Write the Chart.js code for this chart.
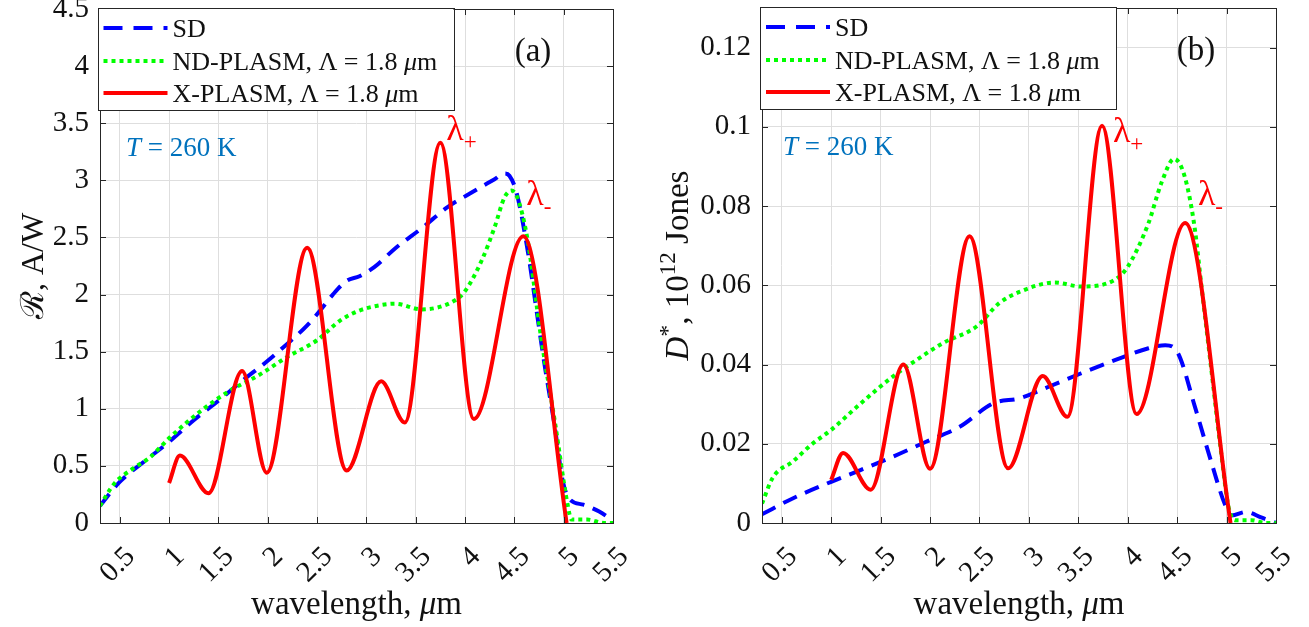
<!DOCTYPE html>
<html>
<head>
<meta charset="utf-8">
<script src="https://cdn.jsdelivr.net/npm/chart.js@4.4.1/dist/chart.umd.min.js"></script>
<style>
  html, body { margin: 0; padding: 0; background: #fff; }
  #wrap { position: relative; width: 1309px; height: 627px; }
  canvas { position: absolute; top: 0; }
  #chartA { left: 0; }
  #chartB { left: 655px; }
</style>
</head>
<body>
<div id="wrap">
  <canvas id="chartA" width="655" height="627"></canvas>
  <canvas id="chartB" width="654" height="627"></canvas>
</div>
<script>
// --- tick labels
var xTicks = [0.5, 1, 1.5, 2, 2.5, 3, 3.5, 4, 4.5, 5, 5.5];
var yTicksA = [0, 0.5, 1, 1.5, 2, 2.5, 3, 3.5, 4, 4.5];
var yTicksB = [0, 0.02, 0.04, 0.06, 0.08, 0.1, 0.12];

// --- panel (a): responsivity, A/W
var wlSD_a = [0.3, 0.5, 0.75, 1.0, 1.25, 1.5, 1.75, 2.0, 2.2, 2.4, 2.55, 2.66, 2.8, 2.93, 3.08, 3.3, 3.56, 3.83, 4.08, 4.3, 4.4, 4.45, 4.52, 4.64, 4.72, 4.8, 4.91, 4.99, 5.06, 5.2, 5.36, 5.5];
var respSD_a = [0.15, 0.36, 0.54, 0.71, 0.9, 1.07, 1.25, 1.42, 1.57, 1.73, 1.88, 2.0, 2.12, 2.16, 2.24, 2.41, 2.58, 2.77, 2.9, 3.01, 3.06, 3.04, 2.9, 2.36, 1.89, 1.42, 0.84, 0.37, 0.21, 0.16, 0.1, 0.02];
var wlND_a = [0.3, 0.44, 0.64, 0.8, 1.01, 1.32, 1.62, 1.92, 2.19, 2.5, 2.73, 2.93, 3.1, 3.29, 3.56, 3.9, 4.0, 4.17, 4.3, 4.4, 4.47, 4.53, 4.63, 4.77, 4.91, 5.04, 5.08, 5.24, 5.41, 5.5];
var respND_a = [0.15, 0.34, 0.48, 0.57, 0.75, 0.98, 1.16, 1.3, 1.45, 1.6, 1.77, 1.86, 1.9, 1.92, 1.87, 1.95, 2.03, 2.3, 2.59, 2.85, 2.91, 2.85, 2.5, 1.63, 0.89, 0.16, 0.03, 0.03, 0.0, 0.0];
var wlX_a = [1.0, 1.11, 1.40, 1.74, 1.99, 2.40, 2.80, 3.15, 3.39, 3.75, 4.09, 4.59, 5.03];
var respX_a = [0.35, 0.59, 0.26, 1.33, 0.44, 2.41, 0.46, 1.24, 0.88, 3.33, 0.91, 2.51, 0.0];

// --- panel (b): detectivity, 10^12 Jones
var wlSD_b = [0.3, 0.61, 1.0, 1.29, 1.62, 1.96, 2.30, 2.64, 2.91, 3.20, 3.53, 3.87, 4.21, 4.38, 4.51, 4.68, 4.85, 4.98, 5.05, 5.2, 5.35, 5.5];
var detSD_b = [0.0022, 0.0062, 0.0104, 0.0133, 0.0167, 0.0205, 0.0243, 0.0302, 0.0315, 0.0344, 0.0378, 0.0411, 0.0441, 0.0449, 0.0428, 0.0293, 0.015, 0.0049, 0.0019, 0.0028, 0.0014, 0.0];
var wlND_b = [0.3, 0.41, 0.61, 0.81, 1.0, 1.29, 1.62, 1.86, 2.13, 2.47, 2.70, 2.91, 3.26, 3.53, 3.87, 4.0, 4.21, 4.34, 4.47, 4.54, 4.61, 4.68, 4.75, 4.85, 4.95, 5.02, 5.09, 5.25, 5.4, 5.5];
var detND_b = [0.0049, 0.0115, 0.0155, 0.020, 0.0235, 0.030, 0.0369, 0.0411, 0.0454, 0.0496, 0.0555, 0.0584, 0.0607, 0.0597, 0.0614, 0.0647, 0.0757, 0.0858, 0.0919, 0.090, 0.0841, 0.074, 0.0589, 0.0378, 0.0167, 0.004, 0.0007, 0.0007, 0.0, 0.0];
var wlX_b = [1.0, 1.12, 1.40, 1.73, 2.0, 2.40, 2.79, 3.14, 3.39, 3.74, 4.09, 4.58, 5.04];
var detX_b = [0.0109, 0.0177, 0.0084, 0.040, 0.0137, 0.0724, 0.0138, 0.0371, 0.0268, 0.1003, 0.0275, 0.0757, 0.0];

// --- labels
var seriesNames = ['SD', 'ND-PLASM, ', 'X-PLASM, '];
var periodText = 'Λ = 1.8 ';
var tempText = ' = 260 K';

var SERIF = '"Liberation Serif", "Times New Roman", serif';
var INK = '#262626';
var GRID = '#dedede';
function f(size, style) { return (style ? style + ' ' : '') + size + 'px ' + SERIF; }

function pts(xs, ys) { return xs.map(function (x, i) { return { x: x, y: ys[i] }; }); }

function richWidth(ctx, segs) {
    var w = 0;
    segs.forEach(function (s) { ctx.font = s.f; w += ctx.measureText(s.t).width; });
    return w;
}
function drawRich(ctx, segs, x, y, align) {
    var cx = align === 'center' ? x - richWidth(ctx, segs) / 2 : x;
    segs.forEach(function (s) {
        ctx.font = s.f;
        ctx.fillText(s.t, cx, y + (s.dy || 0));
        cx += ctx.measureText(s.t).width;
    });
}

// box, inward ticks, legend and the text annotations
var overlay = {
    id: 'overlay',
    afterDraw: function (chart, args, o) {
        var ctx = chart.ctx, a = chart.chartArea;
        var xs = chart.scales.x, ys = chart.scales.y;
        ctx.save();
        ctx.textAlign = 'left';
        ctx.textBaseline = 'alphabetic';
        ctx.strokeStyle = INK;
        ctx.lineWidth = 1;
        ctx.setLineDash([]);
        ctx.beginPath();
        xTicks.forEach(function (v) {
            var p = Math.round(xs.getPixelForValue(v)) + 0.5;
            ctx.moveTo(p, a.bottom); ctx.lineTo(p, a.bottom - 6);
            ctx.moveTo(p, a.top); ctx.lineTo(p, a.top + 6);
        });
        o.yTicks.forEach(function (v) {
            var p = Math.round(ys.getPixelForValue(v)) + 0.5;
            ctx.moveTo(a.left, p); ctx.lineTo(a.left + 6, p);
            ctx.moveTo(a.right, p); ctx.lineTo(a.right - 6, p);
        });
        ctx.stroke();
        ctx.strokeRect(Math.round(a.left) + 0.5, Math.round(a.top) + 0.5, Math.round(a.right - a.left), Math.round(a.bottom - a.top));

        // legend
        var lx = a.left + o.legendDx, ly = a.top - 1, lw = 356, lh = 102;
        ctx.fillStyle = '#fff';
        ctx.fillRect(lx, ly, lw, lh);
        ctx.strokeRect(Math.round(lx) + 0.5, Math.round(ly) + 0.5, lw, lh);
        var styles = [
            { c: '#0000ff', d: [19, 11] },
            { c: '#00ff00', d: [4, 4] },
            { c: '#ff0000', d: [] }
        ];
        var rowY = [20, 53, 85];
        seriesNames.forEach(function (name, i) {
            var yy = ly + rowY[i];
            ctx.strokeStyle = styles[i].c;
            ctx.lineWidth = 4;
            ctx.setLineDash(styles[i].d);
            ctx.beginPath();
            ctx.moveTo(lx + 6, yy); ctx.lineTo(lx + 70, yy);
            ctx.stroke();
            ctx.fillStyle = '#111';
            var segs = [{ t: name, f: f(26) }];
            if (i > 0) {
                segs.push({ t: periodText, f: f(26) }, { t: 'μ', f: f(26, 'italic') }, { t: 'm', f: f(26) });
            }
            drawRich(ctx, segs, lx + 75, yy + 9, 'left');
        });
        ctx.setLineDash([]);

        // panel tag
        ctx.fillStyle = '#111';
        drawRich(ctx, [{ t: o.tag, f: f(33) }], a.right - 80, a.top + 52, 'center');

        // temperature
        ctx.fillStyle = '#0072BD';
        drawRich(ctx, [{ t: 'T', f: f(27, 'italic') }, { t: tempText, f: f(27) }], a.left + o.tempDx, a.top + 147, 'left');

        // lambda marks
        ctx.fillStyle = '#ff0000';
        o.lambdas.forEach(function (l) {
            drawRich(ctx, [{ t: 'λ', f: f(36) }, { t: l.s, f: f(23), dy: 9 }],
                xs.getPixelForValue(l.x), ys.getPixelForValue(l.y), 'left');
        });

        // x title
        ctx.fillStyle = '#111';
        drawRich(ctx, [{ t: 'wavelength, ', f: f(33) }, { t: 'μ', f: f(33, 'italic') }, { t: 'm', f: f(33) }],
            (a.left + a.right) / 2, 614, 'center');

        // y title
        ctx.save();
        ctx.translate(o.yTitleX, (a.top + a.bottom) / 2);
        ctx.rotate(-Math.PI / 2);
        drawRich(ctx, o.yTitle, 0, 0, 'center');
        ctx.restore();
        ctx.restore();
    }
};

function fmt(v) { return String(Math.round(v * 1000) / 1000); }

function makeChart(id, o) {
    var tickFont = { family: SERIF, size: 29 };
    return new Chart(document.getElementById(id), {
        type: 'line',
        data: {
            datasets: [
                { data: pts(o.xX, o.xY), borderColor: '#ff0000', borderWidth: 4, order: 1 },
                { data: pts(o.ndX, o.ndY), borderColor: '#00ff00', borderWidth: 4, borderDash: [4, 4], order: 2 },
                { data: pts(o.sdX, o.sdY), borderColor: '#0000ff', borderWidth: 4, borderDash: [15, 9], order: 3 }
            ]
        },
        options: {
            responsive: false,
            animation: false,
            datasets: { line: { pointRadius: 0, cubicInterpolationMode: 'monotone', fill: false } },
            layout: { padding: { top: o.top, right: o.right, left: 0, bottom: 0 } },
            plugins: { legend: { display: false }, tooltip: { enabled: false }, overlay: o.overlay },
            scales: {
                x: {
                    type: 'linear', min: 0.3, max: 5.5,
                    afterBuildTicks: function (s) { s.ticks = xTicks.map(function (v) { return { value: v }; }); },
                    afterFit: function (s) { s.height = 104; s.paddingLeft = 0; s.paddingRight = 0; },
                    grid: { color: GRID, drawTicks: false },
                    border: { display: false },
                    ticks: { font: tickFont, color: '#111', minRotation: 45, maxRotation: 45, autoSkip: false, padding: 17, labelOffset: 11, callback: fmt }
                },
                y: {
                    type: 'linear', min: 0, max: o.yMax,
                    afterBuildTicks: function (s) { s.ticks = o.overlay.yTicks.map(function (v) { return { value: v }; }); },
                    afterFit: function (s) { s.width = o.yWidth; s.paddingTop = 0; s.paddingBottom = 0; },
                    grid: { color: GRID, drawTicks: false },
                    border: { display: false },
                    ticks: { font: tickFont, color: '#111', padding: 11, callback: fmt }
                }
            }
        },
        plugins: [overlay]
    });
}

makeChart('chartA', {
    sdX: wlSD_a, sdY: respSD_a, ndX: wlND_a, ndY: respND_a, xX: wlX_a, xY: respX_a,
    yMax: 4.5, top: 9, right: 42, yWidth: 100,
    overlay: {
        yTicks: yTicksA, tag: '(a)', legendDx: -2.5, tempDx: 26, yTitleX: 43,
        yTitle: [{ t: 'ℛ', f: f(32) }, { t: ', A/W', f: f(32) }],
        lambdas: [{ x: 3.81, y: 3.35, s: '+' }, { x: 4.62, y: 2.78, s: '-' }]
    }
});

makeChart('chartB', {
    sdX: wlSD_b, sdY: detSD_b, ndX: wlND_b, ndY: detND_b, xX: wlX_b, xY: detX_b,
    yMax: 0.13, top: 8, right: 33, yWidth: 107,
    overlay: {
        yTicks: yTicksB, tag: '(b)', legendDx: -2, tempDx: 21, yTitleX: 33,
        yTitle: [{ t: 'D', f: f(33, 'italic') }, { t: '*', f: f(24), dy: -13 }, { t: ', 10', f: f(33) },
                 { t: '12', f: f(23), dy: -13 }, { t: ' Jones', f: f(33) }],
        lambdas: [{ x: 3.85, y: 0.0963, s: '+' }, { x: 4.71, y: 0.0803, s: '-' }]
    }
});
</script>
</body>
</html>
